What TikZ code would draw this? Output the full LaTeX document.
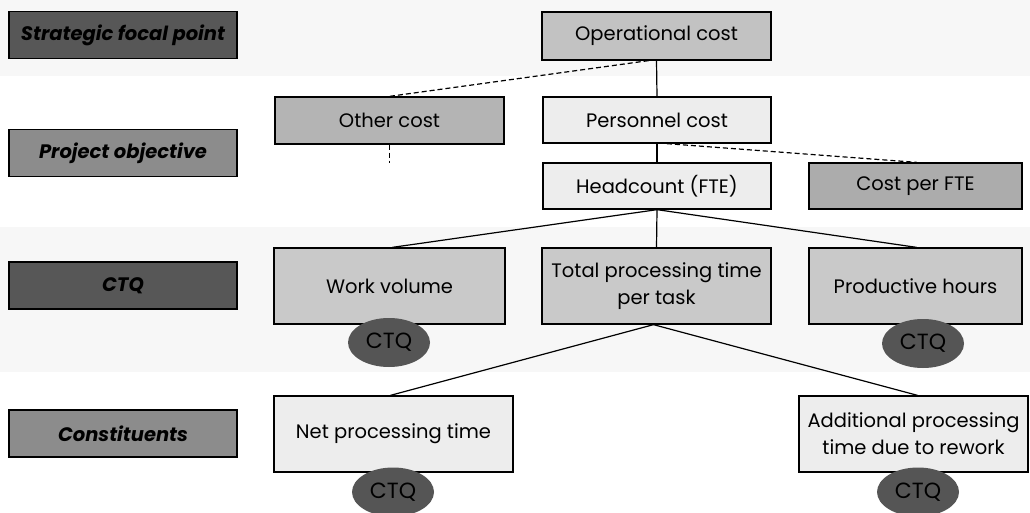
\documentclass[tikz,border=0pt]{standalone}
\usepackage{fontspec}
\setmainfont{Poppins}
\usetikzlibrary{shapes.geometric}

\definecolor{labdark}{HTML}{575757}
\definecolor{labmid}{HTML}{8C8C8C}
\definecolor{opfill}{HTML}{C2C2C2}
\definecolor{otherfill}{HTML}{B4B4B4}
\definecolor{lightfill}{HTML}{EDEDED}
\definecolor{ftefill}{HTML}{ACACAC}
\definecolor{ctqfill}{HTML}{C9C9C9}
\definecolor{ovalfill}{HTML}{555555}
\definecolor{band}{HTML}{F7F7F7}

\tikzset{
  box/.style={draw=black, line width=1.3pt, inner sep=2pt, align=center,
    font=\fontsize{19.5}{27}\selectfont},
  lab/.style={box, minimum width=228pt, minimum height=47pt,
    font=\fontsize{19.5}{24}\selectfont\bfseries\itshape},
  ctq/.style={ellipse, draw=none, fill=ovalfill, minimum width=82pt,
    minimum height=49pt, inner sep=0pt, font=\fontsize{22}{24}\selectfont},
  link/.style={line width=1.2pt},
  dlink/.style={line width=1.2pt, dash pattern=on 5pt off 3pt},
}

\begin{document}
\begin{tikzpicture}[x=1pt, y=-1pt]
\useasboundingbox (0,0) rectangle (1030,513);

% faint horizontal bands behind rows
\fill[band] (0,0) rectangle (1030,76);
\fill[band] (0,227) rectangle (1030,372);

% level labels on the left
\node[lab, fill=labdark] (lvl1) at (123,35) {Strategic focal point};
\node[lab, fill=labmid]  (lvl2) at (123,153) {Project objective};
\node[lab, fill=labdark] (lvl3) at (123,285.5) {CTQ};
\node[lab, fill=labmid]  (lvl4) at (123,433.5) {Constituents};

% top of the tree
\node[box, fill=opfill, minimum width=229pt, minimum height=48pt] (op) at (656.5,36) {Operational cost};
\node[box, fill=otherfill, minimum width=229pt, minimum height=47pt] (other) at (389.5,120.5) {Other cost};
\node[box, fill=lightfill, minimum width=228pt, minimum height=46pt] (pers) at (657,120) {Personnel cost};
\node[box, fill=lightfill, minimum width=228pt, minimum height=46pt] (head) at (657,186) {Headcount (FTE)};
\node[box, fill=ftefill, minimum width=213pt, minimum height=46pt] (fte) at (915.5,186) {Cost per FTE};

% CTQ row
\node[box, fill=ctqfill, minimum width=231pt, minimum height=76pt] (work) at (389.5,286) {Work volume};
\node[box, fill=ctqfill, minimum width=229pt, minimum height=76pt] (total) at (656.5,286) {Total processing time\\per task};
\node[box, fill=ctqfill, minimum width=213pt, minimum height=76pt] (prod) at (915.5,286) {Productive hours};

% constituents row
\node[box, fill=lightfill, minimum width=239pt, minimum height=76pt] (net) at (393.5,434) {Net processing time};
\node[box, fill=lightfill, minimum width=229pt, minimum height=76pt] (add) at (913.5,434) {Additional processing\\time due to rework};

% CTQ markers
\node[ctq] (c1) at (389,342.5) {CTQ};
\node[ctq] (c2) at (923,343.5) {CTQ};
\node[ctq] (c3) at (393,492) {CTQ};
\node[ctq] (c4) at (918,492) {CTQ};

% connectors
\coordinate (stub) at (389.5,163);
\draw[link] (op.south) -- (pers.north);
\draw[dlink] ([xshift=-8pt]op.south) -- (other.north);
\draw[dlink] (other.south) -- (stub);
\draw[link] (pers.south) -- (head.north);
\draw[dlink] ([xshift=10pt]pers.south) -- ([xshift=1pt]fte.north);
\draw[link] (head.south) -- ([xshift=3pt]work.north);
\draw[link] (head.south) -- (total.north);
\draw[link] (head.south) -- ([xshift=1pt]prod.north);
\draw[link] ([xshift=-3pt]total.south) -- ([xshift=-3pt]net.north);
\draw[link] ([xshift=-3pt]total.south) -- ([xshift=4pt]add.north);
\end{tikzpicture}
\end{document}
